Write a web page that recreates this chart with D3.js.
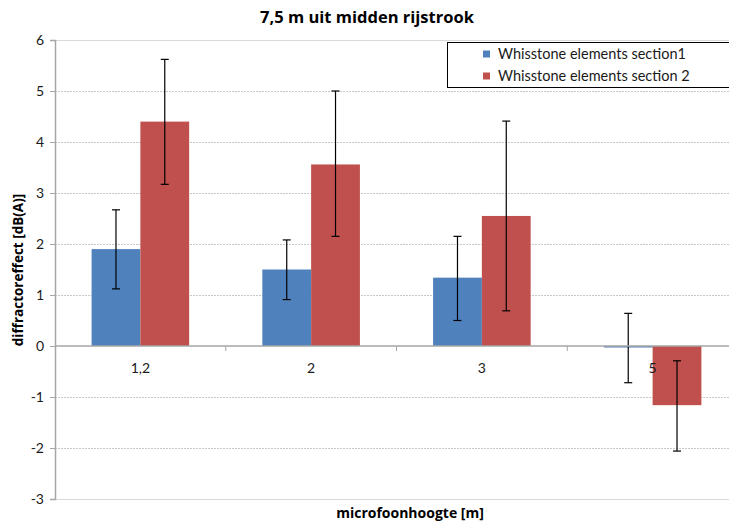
<!DOCTYPE html>
<html><head><meta charset="utf-8">
<script src="https://cdn.jsdelivr.net/npm/d3@7"></script>
<style>body{margin:0;background:#fff}svg{display:block;font-family:Lato,"Open Sans",sans-serif}</style>
</head><body><svg id="c" width="729" height="525"></svg>
<script>
const categories = ["1,2", "2", "3", "5"];
const seriesNames = ["Whisstone elements section1", "Whisstone elements section 2"];
const section1 = [1.90, 1.50, 1.34, -0.02];
const section2 = [4.40, 3.56, 2.55, -1.16];
const section1Low = [1.12, 0.91, 0.50, -0.72];
const section1High = [2.67, 2.08, 2.15, 0.64];
const section2Low = [3.17, 2.15, 0.69, -2.06];
const section2High = [5.62, 5.00, 4.41, -0.29];
const yTicks = [-3, -2, -1, 0, 1, 2, 3, 4, 5, 6];
const colors = ["#4f81bd", "#c0504d"];

(function () {
const svg = d3.select("#c");
const pLeft = 55, pRight = 738, pTop = 40, pBottom = 499;
const x = d3.scaleBand().domain(categories).range([pLeft, pRight]).paddingInner(0).paddingOuter(0);
const y = d3.scaleLinear().domain([-3, 6]).range([pBottom, pTop]);
const inner = d3.scaleBand().domain([0, 1]).range([0, x.bandwidth()]).paddingInner(0).paddingOuter(0.75);

// gridlines
svg.append("g").selectAll("line").data(yTicks.filter(t => t !== 0 && t !== 6 && t !== -3)).join("line")
  .attr("x1", pLeft).attr("x2", 729).attr("y1", d => Math.round(y(d)) + 0.5).attr("y2", d => Math.round(y(d)) + 0.5)
  .attr("stroke", "#c8c8c8").attr("stroke-width", 1).attr("stroke-dasharray", "2,1");
svg.append("g").selectAll("line").data([6, -3]).join("line")
  .attr("x1", pLeft).attr("x2", 729).attr("y1", d => Math.round(y(d)) + 0.5).attr("y2", d => Math.round(y(d)) + 0.5)
  .attr("stroke", "#d9d9d9").attr("stroke-width", 1);

// bars
const data = categories.map((c, i) => ({c, vals: [
  {s: 0, v: section1[i], lo: section1Low[i], hi: section1High[i]},
  {s: 1, v: section2[i], lo: section2Low[i], hi: section2High[i]}]}));
const g = svg.append("g").selectAll("g").data(data).join("g").attr("transform", d => `translate(${x(d.c)},0)`);
g.selectAll("rect").data(d => d.vals).join("rect")
  .attr("x", d => inner(d.s)).attr("width", inner.bandwidth())
  .attr("y", d => Math.min(y(d.v), y(0))).attr("height", d => Math.max(1.5, Math.abs(y(d.v) - y(0))))
  .attr("fill", d => colors[d.s]);

// zero axis line
svg.append("line").attr("x1", pLeft).attr("x2", 729).attr("y1", y(0)).attr("y2", y(0))
  .attr("stroke", "#a6a6a6").attr("stroke-width", 1.5);

// category labels
svg.append("g").selectAll("text").data(categories).join("text")
  .attr("x", d => x(d) + x.bandwidth() / 2).attr("y", y(0) + 27)
  .attr("text-anchor", "middle").attr("font-size", 14).attr("fill", "#1a1a1a").text(d => d);

// error bars
const eb = g.selectAll("g.eb").data(d => d.vals).join("g").attr("class", "eb")
  .attr("transform", d => `translate(${inner(d.s) + inner.bandwidth() / 2},0)`);
eb.append("line").attr("y1", d => y(d.lo)).attr("y2", d => y(d.hi)).attr("stroke", "#000").attr("stroke-width", 1.2);
eb.append("line").attr("x1", -4).attr("x2", 4).attr("y1", d => y(d.hi)).attr("y2", d => y(d.hi)).attr("stroke", "#000").attr("stroke-width", 1.2);
eb.append("line").attr("x1", -4).attr("x2", 4).attr("y1", d => y(d.lo)).attr("y2", d => y(d.lo)).attr("stroke", "#000").attr("stroke-width", 1.2);

// x ticks
svg.append("g").selectAll("line").data(categories.slice(1)).join("line")
  .attr("x1", d => x(d)).attr("x2", d => x(d)).attr("y1", y(0)).attr("y2", y(0) + 5)
  .attr("stroke", "#a6a6a6").attr("stroke-width", 1);

// y axis
const yAxis = d3.axisLeft(y).tickValues(yTicks).tickSize(5).tickPadding(6).tickFormat(d => String(d));
const ya = svg.append("g").attr("transform", `translate(${pLeft},0)`).call(yAxis);
ya.select(".domain").attr("stroke", "#a6a6a6").attr("stroke-width", 1.5);
ya.selectAll(".tick line").attr("stroke", "#a6a6a6");
ya.selectAll(".tick text").attr("font-size", 14).attr("fill", "#1a1a1a").attr("font-family", "Lato");

// titles
const bf = "'Open Sans', sans-serif";
svg.append("text").attr("x", 367).attr("y", 23).attr("text-anchor", "middle").attr("font-family", bf)
  .attr("font-size", 16.5).attr("font-weight", "bold").attr("fill", "#000").text("7,5 m uit midden rijstrook");
svg.append("text").attr("transform", "translate(23,270) rotate(-90)").attr("text-anchor", "middle").attr("font-family", bf)
  .attr("font-size", 13.5).attr("font-weight", "bold").attr("fill", "#000").text("diffractoreffect [dB(A)]");
svg.append("text").attr("x", 410).attr("y", 518).attr("text-anchor", "middle").attr("font-family", bf)
  .attr("font-size", 14).attr("font-weight", "bold").attr("fill", "#000").text("microfoonhoogte [m]");

// legend
const lg = svg.append("g");
lg.append("rect").attr("x", 447.5).attr("y", 42.5).attr("width", 290).attr("height", 45)
  .attr("fill", "#fff").attr("stroke", "#000").attr("stroke-width", 1);
const li = lg.selectAll("g.li").data(seriesNames).join("g").attr("class", "li")
  .attr("transform", (d, i) => `translate(483,${54 + i * 22})`);
li.append("rect").attr("x", 0).attr("y", -3.5).attr("width", 7).attr("height", 7).attr("fill", (d, i) => colors[i]);
li.append("text").attr("x", 15).attr("y", 5).attr("font-size", 14.5).attr("fill", "#1a1a1a").text(d => d);
})();
</script></body></html>
